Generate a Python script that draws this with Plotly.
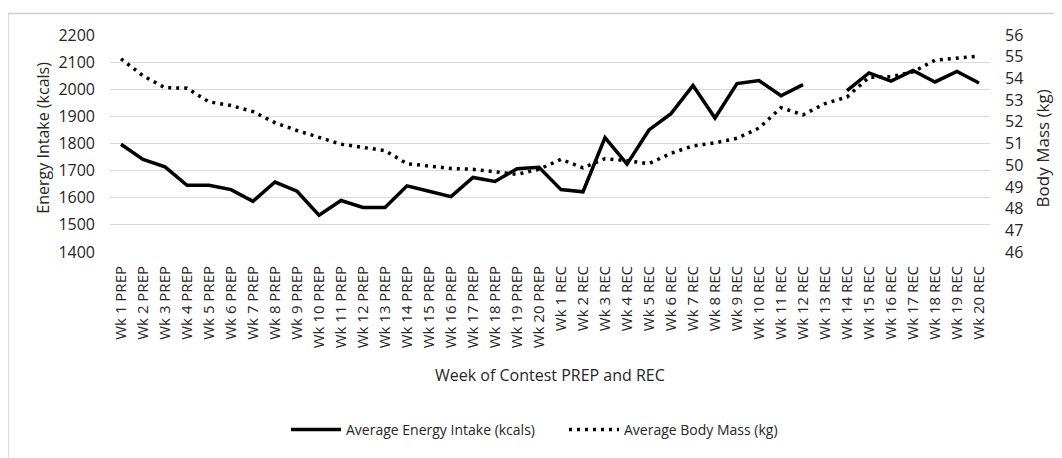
import plotly.graph_objects as go

weeks_prep = [f"Wk {i} PREP" for i in range(1, 21)]
weeks_rec = [f"Wk {i} REC" for i in range(1, 21)]
categories = weeks_prep + weeks_rec

energy_intake = [1797, 1741, 1714, 1646, 1646, 1630, 1587, 1658, 1624, 1536,
                 1590, 1564, 1564, 1644, 1624, 1604, 1675, 1660, 1707, 1712,
                 1630, 1622, 1822, 1724, 1850, 1910, 2014, 1894, 2021, 2032,
                 1976, 2017, None, 1995, 2060, 2030, 2069, 2027, 2066, 2023]

body_mass = [54.9, 54.12, 53.57, 53.55, 52.92, 52.75, 52.47, 51.96, 51.6, 51.27,
             50.97, 50.82, 50.67, 50.07, 49.97, 49.85, 49.81, 49.69, 49.58, 49.81,
             50.27, 49.88, 50.3, 50.21, 50.07, 50.55, 50.89, 51.03, 51.24, 51.71,
             52.65, 52.32, 52.84, 53.14, 54.05, 54.08, 54.3, 54.84, 54.93, 55.03]

left_ticks = [1400, 1500, 1600, 1700, 1800, 1900, 2000, 2100, 2200]
right_ticks = [46, 47, 48, 49, 50, 51, 52, 53, 54, 55, 56]

FONT = "Open Sans"
TXT = "#262626"

# the page body adds an 8px margin, so layout coordinates are screen minus 8
OFF = 8
W, H = 1062 - OFF, 458 - OFF
L, R, T, B = 110 - OFF, 990 - OFF, 35 - OFF, 257 - OFF

def px2paper_x(px):
    return (px - OFF - L) / (R - L)

def px2paper_y(py):
    return (B - (py - OFF)) / (B - T)

fig = go.Figure()
fig.add_trace(go.Scatter(
    x=categories, y=energy_intake, mode="lines",
    name="Average Energy Intake (kcals)",
    line=dict(color="black", width=3.5), connectgaps=False, yaxis="y"))
fig.add_trace(go.Scatter(
    x=categories, y=body_mass, mode="lines",
    name="Average Body Mass (kg)",
    line=dict(color="black", width=3.5, dash="3px,5px"), yaxis="y2"))

fig.update_layout(
    width=W, height=H,
    margin=dict(l=L, r=W - R, t=T, b=H - B),
    paper_bgcolor="white", plot_bgcolor="white",
    font=dict(family=FONT, size=14, color=TXT),
    showlegend=True,
    legend=dict(orientation="h", x=px2paper_x(564), xanchor="center",
                y=px2paper_y(439), yanchor="middle",
                font=dict(family=FONT, size=14, color=TXT),
                itemwidth=50, entrywidth=213, entrywidthmode="pixels"),
    xaxis=dict(type="category", categoryorder="array", categoryarray=categories,
               tickangle=-90, showgrid=False, zeroline=False, showline=False,
               ticks="", tickfont=dict(family=FONT, size=15, color=TXT),
               ticklabelstandoff=10, range=[-0.5, 39.5]),
    yaxis=dict(range=[1400, 2200], tickvals=left_ticks, showgrid=True,
               gridcolor="#d9d9d9", gridwidth=1.2, zeroline=False, showline=False,
               ticks="", tickfont=dict(family=FONT, size=16, color=TXT),
               ticklabelstandoff=14),
    yaxis2=dict(range=[46, 56], tickvals=right_ticks, overlaying="y", side="right",
                showgrid=False, zeroline=False, showline=False, ticks="",
                tickfont=dict(family=FONT, size=16, color=TXT),
                ticklabelstandoff=14),
    annotations=[
        dict(text="Week of Contest PREP and REC", xref="paper", yref="paper",
             x=px2paper_x(550), y=px2paper_y(383), xanchor="center", yanchor="middle",
             showarrow=False, font=dict(family=FONT, size=16, color=TXT)),
        dict(text="Energy Intake (kcals)", xref="paper", yref="paper",
             x=px2paper_x(43), y=px2paper_y(140), xanchor="center", yanchor="middle",
             textangle=-90, showarrow=False, font=dict(family=FONT, size=16, color=TXT)),
        dict(text="Body Mass (kg)", xref="paper", yref="paper",
             x=px2paper_x(1042), y=px2paper_y(151), xanchor="center", yanchor="middle",
             textangle=-90, showarrow=False, font=dict(family=FONT, size=17, color=TXT)),
    ],
    shapes=[
        dict(type="rect", xref="paper", yref="paper",
             x0=px2paper_x(8), y0=px2paper_y(480), x1=px2paper_x(1080), y1=px2paper_y(13),
             line=dict(color="#d0d0d0", width=1.5), fillcolor="rgba(0,0,0,0)", layer="below"),
    ],
)

fig.write_html("out.html")
